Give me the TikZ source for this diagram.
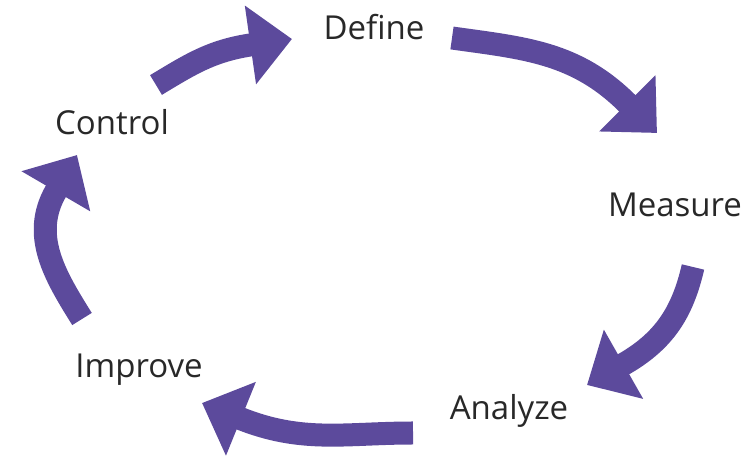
\documentclass[tikz,border=0pt]{standalone}
\usepackage{fontspec}
\setmainfont{Open Sans}
\usetikzlibrary{arrows.meta}
\definecolor{cyclepurple}{RGB}{92,74,156}
\definecolor{labelgray}{RGB}{40,40,40}

\begin{document}
\begin{tikzpicture}[x=1pt,y=1pt,
  flow/.style={line width=23pt, cyclepurple, -{Triangle[width=77pt,length=42pt]}},
  stage/.style={anchor=base, text=labelgray, inner sep=0pt, font=\fontsize{33}{40}\selectfont}]

\useasboundingbox (0,0) rectangle (753,460);

% the five stages
\node[stage] (define)  at (374,420) {Define};
\node[stage] (measure) at (675,243) {Measure};
\node[stage] (analyze) at (509,40)  {Analyze};
\node[stage] (improve) at (139,82)  {Improve};
\node[stage] (control) at (112,325) {Control};

% arrow ends: start, head base, tip
\coordinate (cd-s) at (156,375); \coordinate (cd-b) at (250,415); \coordinate (cd-t) at (292,421);
\coordinate (dm-s) at (452,422); \coordinate (dm-b) at (628,356); \coordinate (dm-t) at (657,327);
\coordinate (ma-s) at (693,193); \coordinate (ma-b) at (624,96);  \coordinate (ma-t) at (587,75);
\coordinate (ai-s) at (413,27);  \coordinate (ai-b) at (239,42);  \coordinate (ai-t) at (202,57);
\coordinate (ic-s) at (82,141);  \coordinate (ic-b) at (56,269);  \coordinate (ic-t) at (77,305);

\draw[flow] (cd-s) to[out=31,in=189] (cd-b) -- (cd-t);
\draw[flow] (dm-s) to[out=-8,in=135] (dm-b) -- (dm-t);
\draw[flow] (ma-s) to[out=-103,in=30] (ma-b) -- (ma-t);
\draw[flow] (ai-s) to[out=180,in=-22] (ai-b) -- (ai-t);
\draw[flow] (ic-s) to[out=122,in=240] (ic-b) -- (ic-t);

\end{tikzpicture}
\end{document}
